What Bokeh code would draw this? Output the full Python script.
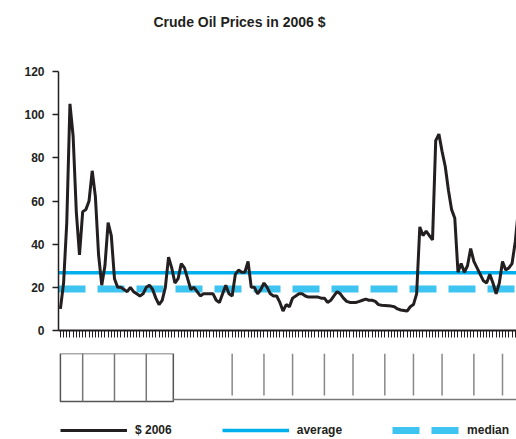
from bokeh.plotting import figure
from bokeh.models import Range1d, FixedTicker, Legend, LegendItem, Span
from bokeh.layouts import column
from bokeh.embed import file_html
from bokeh.resources import INLINE

# ---------------- data ----------------
years = list(range(1861, 2007))
price_2006 = [
    10, 22, 50, 105, 90, 55, 35, 55, 56, 60,          # 1861-1870
    74, 62, 35, 21, 30, 50, 44, 24, 20, 20,           # 1871-1880
    19, 18, 20, 18, 17, 16, 17, 20, 21, 19,           # 1881-1890
    15, 12, 14, 20, 34, 29, 22, 24, 31, 29,           # 1891-1900
    24, 19, 20, 18, 16, 17, 17, 17, 17, 14,           # 1901-1910
    13, 17, 21, 17, 16, 26, 28, 27, 27, 32,           # 1911-1920
    20, 20, 17, 19, 22, 20, 17, 16, 16, 13,           # 1921-1930
    9, 12, 11, 15, 16, 17, 17, 16, 15.5, 15.5,        # 1931-1940
    15.5, 15.5, 15, 15, 13, 14, 16, 18, 17, 15,       # 1941-1950
    13.5, 13, 13, 13, 13.5, 14, 14.5, 14, 14, 13.5,   # 1951-1960
    12, 11.7, 11.6, 11.5, 11.3, 11, 10, 9.5, 9.3, 9,  # 1961-1970
    11, 12, 17, 48, 44, 46, 44, 42, 88, 91,           # 1971-1980
    83, 76, 65, 56, 52, 27, 31, 27, 30, 38,           # 1981-1990
    32, 29, 26, 23, 22, 26, 22, 17, 22, 32,           # 1991-2000
    28, 29, 31, 41, 56, 65,                           # 2001-2006
]
average_value = 26.7
median_value = 19.2
y_ticks = [0, 20, 40, 60, 80, 100, 120]
title_text = "Crude Oil Prices in 2006 $"
series_labels = ["$ 2006", "average", "median"]

# category-label panel under the axis (garbled label area in the original)
panel_box = [1861, 1896.5]
panel_box_dividers = [1868, 1878, 1888]
panel_marks = [1915, 1925, 1934, 1944, 1953, 1963, 1972, 1981, 1991, 2000]

BLACK = "#231f20"
AVG_COLOR = "#00b0ec"
MED_COLOR = "#3ec4f0"
FONT = "Liberation Sans"

x_range = Range1d(1860.4, 2004.4)

# ---------------- title strip ----------------
p0 = figure(width=516, height=45, x_range=x_range, y_range=Range1d(0, 1),
            output_backend="svg", toolbar_location=None,
            min_border_left=58, min_border_right=0,
            min_border_top=0, min_border_bottom=0,
            x_axis_location=None, y_axis_location=None,
            title=title_text)
p0.outline_line_color = None
p0.grid.visible = False
p0.title.align = "left"
p0.title.offset = 95
p0.title.standoff = 22
p0.title.text_font = FONT
p0.title.text_font_size = "14px"
p0.title.text_font_style = "bold"
p0.title.text_color = BLACK

# ---------------- main chart ----------------
p = figure(width=516, height=300, x_range=x_range, y_range=Range1d(0, 120),
           output_backend="svg", toolbar_location=None,
           min_border_left=58, min_border_right=0,
           min_border_top=26, min_border_bottom=15)
p.outline_line_color = None
p.grid.visible = False
p.background_fill_color = "white"

yax = p.yaxis[0]
yax.ticker = FixedTicker(ticks=y_ticks)
yax.minor_tick_line_color = None
yax.major_tick_in = 0
yax.major_tick_out = 6
yax.axis_line_width = 1.5
yax.axis_line_color = BLACK
yax.major_tick_line_color = BLACK
yax.major_tick_line_width = 1.5
yax.major_label_text_font = FONT
yax.major_label_text_font_size = "12px"
yax.major_label_text_font_style = "bold"
yax.major_label_text_color = BLACK
yax.major_label_standoff = 8

xax = p.xaxis[0]
xax.ticker = FixedTicker(ticks=years)
xax.minor_tick_line_color = None
xax.major_tick_in = 0
xax.major_tick_out = 7
xax.axis_line_width = 2
xax.axis_line_color = BLACK
xax.major_tick_line_color = BLACK
xax.major_tick_line_width = 1
xax.major_label_overrides = {y: "" for y in years}
xax.major_label_text_font_size = "1px"
xax.major_label_standoff = 0

avg_span = Span(location=average_value, dimension="width",
                line_color=AVG_COLOR, line_width=3.5, level="underlay")
med_span = Span(location=median_value, dimension="width",
                line_color=MED_COLOR, line_width=7, line_dash="27 12",
                level="underlay")
p.add_layout(avg_span)
p.add_layout(med_span)

p.line(years, price_2006, line_color=BLACK, line_width=3)

# ---------------- label panel + legend ----------------
p2 = figure(width=516, height=94, x_range=x_range, y_range=Range1d(0, 86),
            output_backend="svg", toolbar_location=None,
            min_border_left=58, min_border_right=0,
            min_border_top=8, min_border_bottom=0,
            x_axis_location=None, y_axis_location=None)
p2.outline_line_color = None
p2.grid.visible = False

p2.quad(left=[panel_box[0]], right=[panel_box[1]], top=[86], bottom=[38],
        fill_color=None, line_color="#555555", line_width=1.5)
p2.segment(x0=panel_box_dividers, x1=panel_box_dividers,
           y0=[86] * len(panel_box_dividers), y1=[38] * len(panel_box_dividers),
           line_color="#777777", line_width=1.5)
p2.segment(x0=panel_marks, x1=panel_marks,
           y0=[86] * len(panel_marks), y1=[44] * len(panel_marks),
           line_color="#888888", line_width=1.5)
p2.line(x=[panel_box[1], years[-1]], y=[40, 40], line_color="#777777", line_width=1.5)

# legend-only renderers (their points lie outside the visible range)
hidden_x = [years[0], years[1]]
hidden_y = [-20, -20]
r_price = p2.line(x=hidden_x, y=hidden_y, line_color=BLACK, line_width=3)
r_avg = p2.line(x=hidden_x, y=hidden_y, line_color=AVG_COLOR, line_width=3.5)
r_med = p2.line(x=hidden_x, y=hidden_y, line_color=MED_COLOR, line_width=7,
                line_dash="27 12")

legend = Legend(items=[LegendItem(label=series_labels[0], renderers=[r_price]),
                       LegendItem(label=series_labels[1], renderers=[r_avg]),
                       LegendItem(label=series_labels[2], renderers=[r_med])],
                orientation="horizontal", location=(2, 2),
                glyph_width=67, glyph_height=14, label_height=14,
                label_standoff=8, spacing=50, padding=0, margin=0,
                border_line_color=None, background_fill_alpha=0,
                label_text_font=FONT, label_text_font_size="12px",
                label_text_font_style="bold", label_text_color=BLACK)
p2.add_layout(legend)

layout = column(p0, p, p2, spacing=0)
open("out.html", "w").write(file_html(layout, INLINE))
